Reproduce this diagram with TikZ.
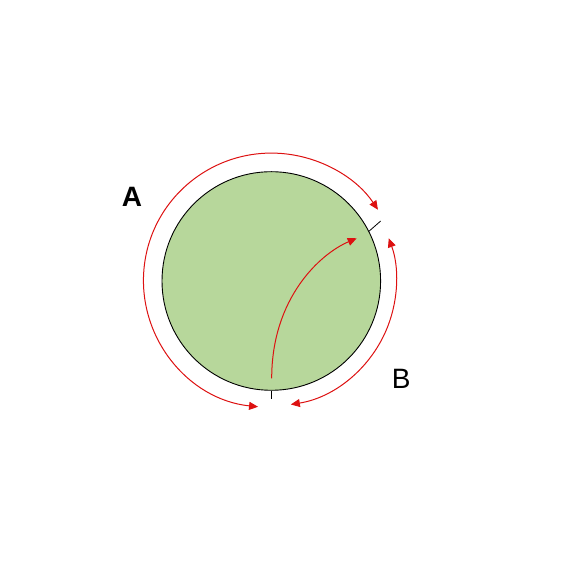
\documentclass[tikz,border=0pt]{standalone}
\usepackage{fontspec}
\setmainfont{Liberation Sans}
\usetikzlibrary{arrows.meta}
\definecolor{discgreen}{RGB}{183,215,155}
\definecolor{arrowred}{RGB}{221,17,17}

\begin{document}
\begin{tikzpicture}[x=1pt, y=1pt,
	>={Triangle[length=9pt, width=8pt]},
	flow/.style={draw=arrowred, fill=none, line width=1pt},
	lbl/.style={font=\fontsize{28}{34}\selectfont}]
	\useasboundingbox (0,0) rectangle (568,567);
	\node[circle, draw, fill=discgreen, line width=0.9pt, minimum size=218.6pt, inner sep=0pt] (disc) at (271.3,286) {};
	
	\coordinate (bottomend) at (271.3,167.7);
	\coordinate (sideend) at (380.7,346);
	\draw[line width=0.8pt] (disc.south) -- (bottomend);
	\draw[line width=0.8pt] (disc.27) -- (sideend);
	
	\coordinate (astart) at ([shift={(264:126.5)}]disc.center);
	\coordinate (bstart) at ([shift={(-81:125)}]disc.center);
	\coordinate (inner) at (271.7,188.7);
	\coordinate (innerend) at (356.7,328.7);
	\draw[flow, <->] (astart) arc[start angle=264, end angle=33.7, x radius=128, y radius=127.2];
	\draw[flow, <->] (bstart) arc[start angle=-81, end angle=20, radius=125];
	\draw[flow, ->] (inner) .. controls (271.7,268.7) and (319.9,313.1) .. (innerend);
	
	\node[lbl, font=\fontsize{28}{34}\selectfont\bfseries] (labelA) at (132,370.3) {A};
	\node[lbl] (labelB) at (401.3,187.7) {B};
\end{tikzpicture}
\end{document}
